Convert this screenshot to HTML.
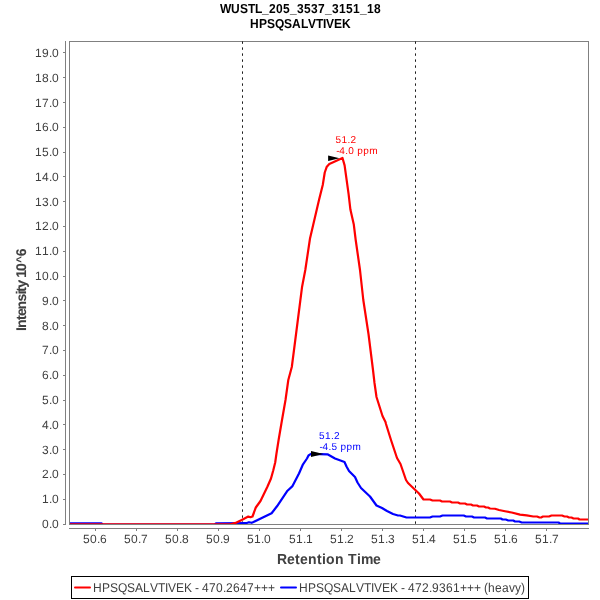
<!DOCTYPE html>
<html><head><meta charset="utf-8"><title>WUSTL_205_3537_3151_18</title>
<style>
html,body{margin:0;padding:0;background:#fff;}
body{width:600px;height:600px;overflow:hidden;}
svg{display:block;font-family:"Liberation Sans",sans-serif;font-kerning:none;text-rendering:geometricPrecision;}
.tick{font-size:12px;fill:#404040;}
.title{font-size:12px;font-weight:bold;fill:#000;}
.axl{font-size:14px;font-weight:bold;fill:#404040;}
.leg{font-size:12px;fill:#404040;}
.ann{font-size:10px;}
</style></head><body>
<svg width="600" height="600" viewBox="0 0 600 600">
<rect width="600" height="600" fill="#fff"/>
<text class="title" transform="translate(0,13) scale(1,1.08)" x="220 231 240 248 255 262 269 276 283 290 297 304 311 318 325 332 339 346 353 360 367 374" y="0">WUSTL_205_3537_3151_18</text>
<text class="title" transform="translate(0,28) scale(1,1.08)" x="250 259 267 275 284 292 301 308 316 323 326 334 342" y="0">HPSQSALVTIVEK</text>
<g shape-rendering="crispEdges" stroke="#808080" stroke-width="1" fill="none">
<line x1="65.5" y1="41" x2="65.5" y2="525"/>
<line x1="69" y1="528.5" x2="589" y2="528.5"/>
<line x1="63" y1="524.5" x2="65" y2="524.5"/>
<line x1="63" y1="499.5" x2="65" y2="499.5"/>
<line x1="63" y1="474.5" x2="65" y2="474.5"/>
<line x1="63" y1="449.5" x2="65" y2="449.5"/>
<line x1="63" y1="424.5" x2="65" y2="424.5"/>
<line x1="63" y1="400.5" x2="65" y2="400.5"/>
<line x1="63" y1="375.5" x2="65" y2="375.5"/>
<line x1="63" y1="350.5" x2="65" y2="350.5"/>
<line x1="63" y1="325.5" x2="65" y2="325.5"/>
<line x1="63" y1="300.5" x2="65" y2="300.5"/>
<line x1="63" y1="276.5" x2="65" y2="276.5"/>
<line x1="63" y1="251.5" x2="65" y2="251.5"/>
<line x1="63" y1="226.5" x2="65" y2="226.5"/>
<line x1="63" y1="201.5" x2="65" y2="201.5"/>
<line x1="63" y1="176.5" x2="65" y2="176.5"/>
<line x1="63" y1="152.5" x2="65" y2="152.5"/>
<line x1="63" y1="127.5" x2="65" y2="127.5"/>
<line x1="63" y1="102.5" x2="65" y2="102.5"/>
<line x1="63" y1="77.5" x2="65" y2="77.5"/>
<line x1="63" y1="52.5" x2="65" y2="52.5"/>
<line x1="95.5" y1="529" x2="95.5" y2="531"/>
<line x1="136.5" y1="529" x2="136.5" y2="531"/>
<line x1="177.5" y1="529" x2="177.5" y2="531"/>
<line x1="218.5" y1="529" x2="218.5" y2="531"/>
<line x1="259.5" y1="529" x2="259.5" y2="531"/>
<line x1="300.5" y1="529" x2="300.5" y2="531"/>
<line x1="341.5" y1="529" x2="341.5" y2="531"/>
<line x1="382.5" y1="529" x2="382.5" y2="531"/>
<line x1="423.5" y1="529" x2="423.5" y2="531"/>
<line x1="464.5" y1="529" x2="464.5" y2="531"/>
<line x1="505.5" y1="529" x2="505.5" y2="531"/>
<line x1="546.5" y1="529" x2="546.5" y2="531"/>
</g>
<text class="tick" x="42 49 52" y="528">0.0</text>
<text class="tick" x="42 49 52" y="503">1.0</text>
<text class="tick" x="42 49 52" y="478">2.0</text>
<text class="tick" x="42 49 52" y="454">3.0</text>
<text class="tick" x="42 49 52" y="429">4.0</text>
<text class="tick" x="42 49 52" y="404">5.0</text>
<text class="tick" x="42 49 52" y="379">6.0</text>
<text class="tick" x="42 49 52" y="354">7.0</text>
<text class="tick" x="42 49 52" y="330">8.0</text>
<text class="tick" x="42 49 52" y="305">9.0</text>
<text class="tick" x="35 42 49 52" y="280">10.0</text>
<text class="tick" x="35 42 49 52" y="255">11.0</text>
<text class="tick" x="35 42 49 52" y="230">12.0</text>
<text class="tick" x="35 42 49 52" y="206">13.0</text>
<text class="tick" x="35 42 49 52" y="181">14.0</text>
<text class="tick" x="35 42 49 52" y="156">15.0</text>
<text class="tick" x="35 42 49 52" y="131">16.0</text>
<text class="tick" x="35 42 49 52" y="107">17.0</text>
<text class="tick" x="35 42 49 52" y="82">18.0</text>
<text class="tick" x="35 42 49 52" y="57">19.0</text>
<text class="tick" x="83 90 97 100" y="543">50.6</text>
<text class="tick" x="124 131 138 141" y="543">50.7</text>
<text class="tick" x="165 172 179 182" y="543">50.8</text>
<text class="tick" x="206 213 220 223" y="543">50.9</text>
<text class="tick" x="247 254 261 264" y="543">51.0</text>
<text class="tick" x="289 296 303 306" y="543">51.1</text>
<text class="tick" x="330 337 344 347" y="543">51.2</text>
<text class="tick" x="371 378 385 388" y="543">51.3</text>
<text class="tick" x="412 419 426 429" y="543">51.4</text>
<text class="tick" x="453 460 467 470" y="543">51.5</text>
<text class="tick" x="494 501 508 511" y="543">51.6</text>
<text class="tick" x="535 542 549 552" y="543">51.7</text>
<text class="axl" transform="translate(0,564) scale(1,1.04)" x="277 287 295 300 308 317 322 326 335 344 348 357 361 373" y="0">Retention Time</text>
<g transform="translate(26,331) rotate(-90)" stroke="#404040" stroke-width="0.1">
<text class="axl" x="0 3 11 15 21.6 29.5 36.6 39.3 43.3 50 53.3 60 68.2 74.7" y="0 0 0 0 0 0 0 0 0 0 0 0 -2 0">Intensity 10<tspan font-size="11px">^</tspan>6</text>
</g>
<rect x="69.5" y="41.5" width="519" height="483" fill="none" stroke="#808080" stroke-width="1" shape-rendering="crispEdges"/>
<g stroke="#1c1c1c" stroke-width="1" stroke-dasharray="2.4 3.6">
<line x1="242.5" y1="41.4" x2="242.5" y2="524"/>
<line x1="415.5" y1="41.4" x2="415.5" y2="524"/>
</g>
<clipPath id="pc"><rect x="70" y="42" width="518" height="482"/></clipPath>
<g clip-path="url(#pc)">
<polyline points="69,523.3 101.5,523.3 103,524.5 214.5,524.5 216,523.3 246,523.2 249,522.2 251.7,522.8 253.5,522 271.6,513.2 277,506.3 287.5,490.7 292.5,486.1 299,473.5 303,464.3 307,458.5 308.5,455.5 311,453.8 327.5,454.3 335,458.5 344.5,462 346.5,466.5 349,471 355,477 357.5,482.5 361,488 370,496.5 376.5,505.5 382,508 387,511 393,514 398,515.5 400,515.5 406.5,517.5 430,517.5 432.5,516.5 440,516.5 442.5,515.5 463.75,515.5 466,516.5 472,516.5 474,517.5 485,517.5 487,518.5 500.8,518.5 502.5,519.5 505.8,519.5 508.3,520.5 513.3,520.5 515,521.5 519.2,521.5 521.7,522.5 558.5,522.5 560,523.5 589,523.5" fill="none" stroke="#0000ff" stroke-width="2.2" stroke-linejoin="round" stroke-linecap="butt"/>
<polyline points="69,524.3 230.5,524.3 233,523.5 236.5,522.6 241.7,520 248.3,516.6 250.5,517.2 252.5,516.5 255.8,507.5 260.5,501 267.5,486.5 271,478.5 273.3,470.3 275.2,462.5 276.4,454 278.6,440 282,420 285.5,400 288.3,380 291.8,367 294,350 302,287.3 305.3,270 310,238.5 319,200 322.75,185 324.75,172.5 326.8,166.7 329.3,164 342.5,158 344.6,165.4 348.6,194.2 350.4,209.6 353.75,224.2 355.7,240 360,270 363.3,300 368.5,334 373,370 374.5,383 376.5,397 382.5,416 385.5,422 386,424 391,440 397,458 400.5,464 406,480 408,483 419,493.5 423.5,499.5 430,499.5 432.5,500.5 440,500.5 442,501.5 450,501.5 452,502.5 458,502.5 460,503.5 465,503.5 467,504.5 471,504.5 473,505.5 477,505.5 479,506.5 484,506.5 486,507.5 488,507.5 490,508.5 495,508.75 499,510 505,511.25 511.7,512.5 520,514.6 526.7,515.4 533.3,516.5 537,516.5 539.5,517.5 541.5,517.3 543,516.5 549,516.5 551.5,515.5 562,515.5 564.5,516.5 567,516.5 569,517.5 571.5,517.5 573.5,518.5 578,518.5 579.5,519.5 589,519.5" fill="none" stroke="#ff0000" stroke-width="2.2" stroke-linejoin="round" stroke-linecap="butt"/>
</g>
<polygon points="328.1,155.5 328.1,161 339.6,158.25" fill="#000"/>
<polygon points="311,451.1 311,456.9 323.5,454" fill="#000"/>
<text class="ann" fill="#ff0000" x="335.5 341.5 347.5 350.5" y="143">51.2</text>
<text class="ann" fill="#ff0000" x="336.3 339.3 345.3 348.3 354.3 357.3 363.3 369.3" y="154">-4.0 ppm</text>
<text class="ann" fill="#0000ff" x="319 325 331 334" y="439">51.2</text>
<text class="ann" fill="#0000ff" x="319.6 322.6 328.6 331.6 337.6 340.6 346.6 352.6" y="450">-4.5 ppm</text>
<rect x="71.5" y="576.5" width="457" height="22" fill="#fff" stroke="#000" stroke-width="1" shape-rendering="crispEdges"/>
<line x1="75" y1="587.5" x2="90" y2="587.5" stroke="#ff0000" stroke-width="2" stroke-linecap="round"/>
<text class="leg" transform="translate(0,592) scale(1,1.06)" x="93 102 110 118 127 135 143 150 158 165 168 176 184 192 195 199 202 209 216 223 226 233 240 247 254 261 268" y="0">HPSQSALVTIVEK - 470.2647+++</text>
<line x1="281" y1="587.5" x2="296" y2="587.5" stroke="#0000ff" stroke-width="2" stroke-linecap="round"/>
<text class="leg" transform="translate(0,592) scale(1,1.06)" x="299 308 316 324 333 341 349 356 364 371 374 382 390 398 401 405 408 415 422 429 432 439 446 453 460 467 474 481 484 488 495 502 509 515 521" y="0">HPSQSALVTIVEK - 472.9361+++ (heavy)</text>
</svg>
</body></html>
